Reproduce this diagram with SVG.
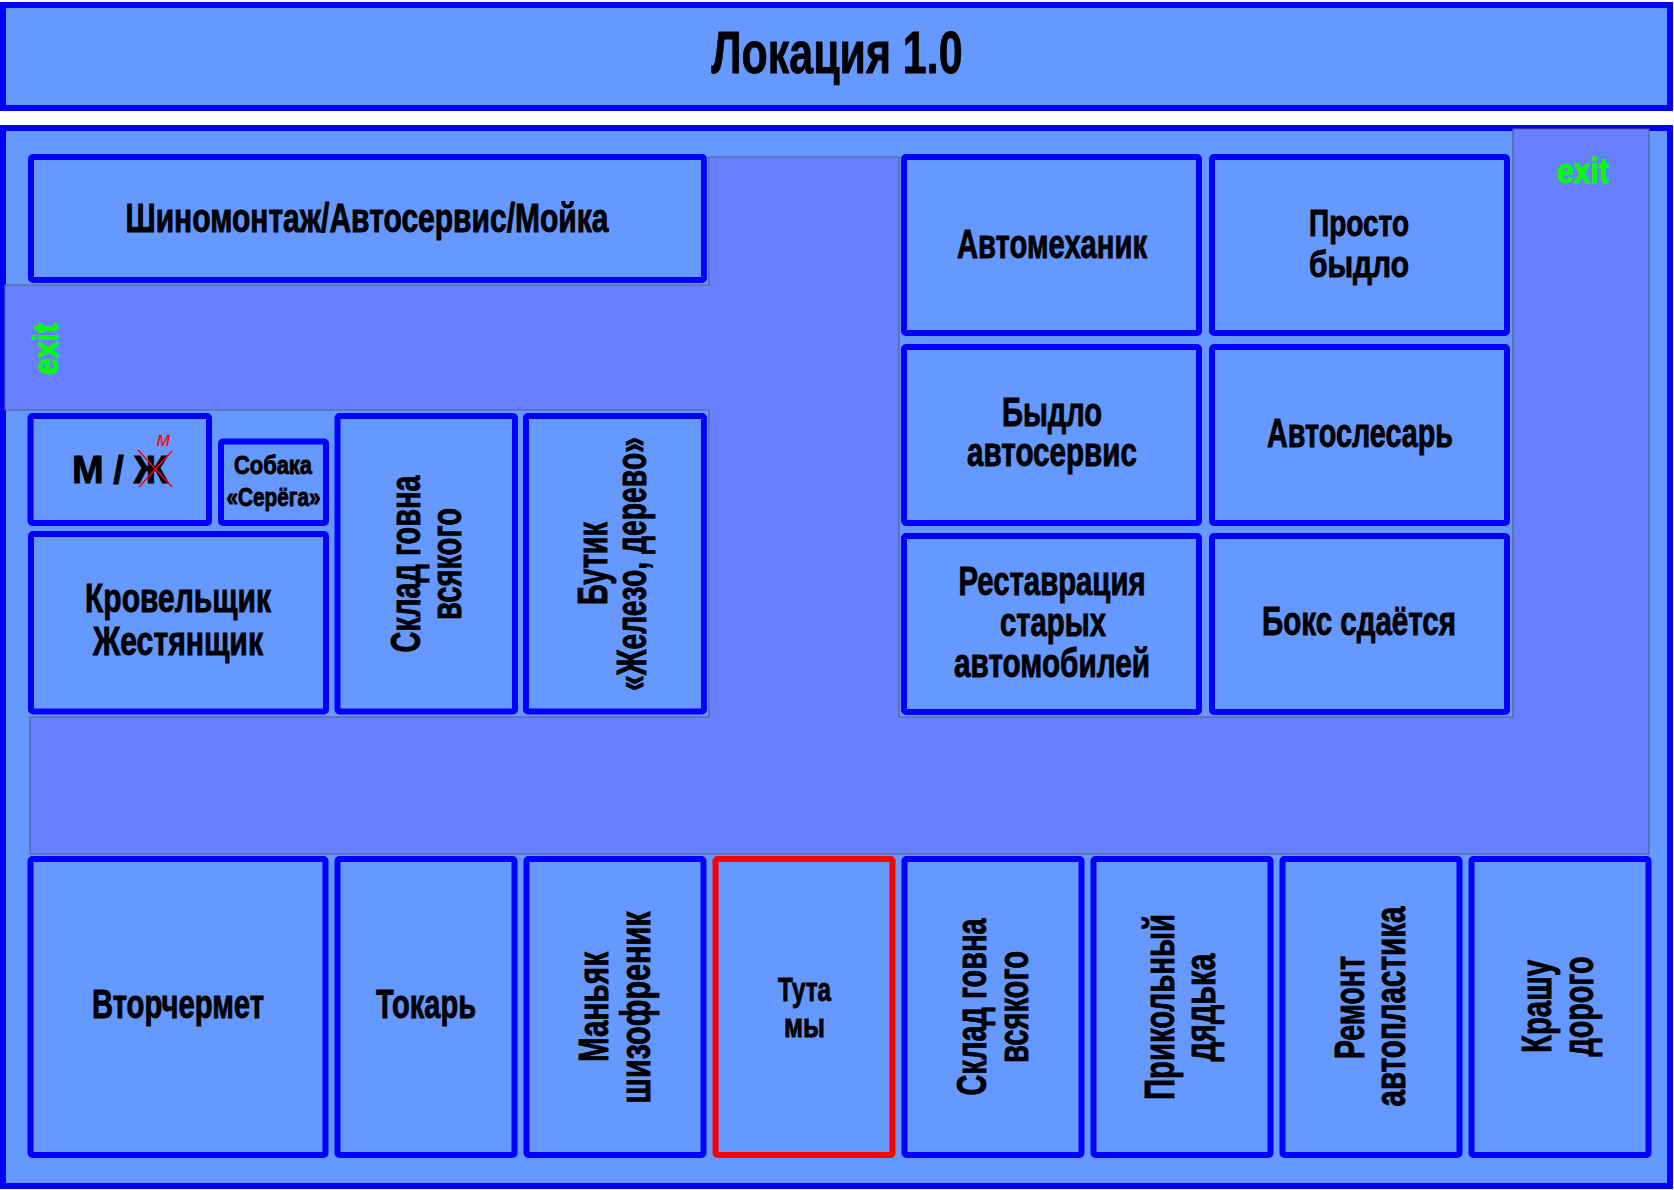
<svg xmlns="http://www.w3.org/2000/svg" width="1674" height="1190" viewBox="0 0 1674 1190">
<style>
.frame{fill:#6699ff;stroke:#0000ff;stroke-width:6}
.box{fill:#6699ff;stroke:#0000ff;stroke-width:6}
.here{fill:#6699ff;stroke:#ff0000;stroke-width:6}
.corr{fill:#6680ff;stroke:#556088;stroke-width:1.2}
.t{font-family:"Liberation Sans Narrow","Liberation Sans",Arial,sans-serif;font-weight:bold;fill:#000;stroke:#000;stroke-width:0.9;text-anchor:middle}
.lab{font-size:40px}
.rot{font-size:42px}
.exit{font-family:"Liberation Sans Narrow","Liberation Sans",Arial,sans-serif;font-weight:bold;fill:#00ff00;stroke:#00ff00;stroke-width:0.8;font-size:35px;text-anchor:middle}
.mark{stroke:#ff0000;stroke-width:1.5}
.m{font-family:"Liberation Sans",Arial,sans-serif;font-size:20px;font-style:italic;fill:#ff0000;text-anchor:middle}
</style>
<rect width="1674" height="1190" fill="#ffffff"/>
<g id="title">
<rect class="frame" x="3" y="5" width="1667" height="103"/>
<text class="t" x="837" y="73" font-size="60" textLength="251" lengthAdjust="spacingAndGlyphs">Локация 1.0</text>
</g>
<g id="location">
<rect class="frame" x="3" y="128" width="1667" height="1058"/>
<path class="corr" d="M5 285H709V157H899V717H1513V129H1649V854H30V717H709V410H5Z"/>
<text class="exit" x="1583" y="183" textLength="52" lengthAdjust="spacingAndGlyphs">exit</text>
<text class="exit" transform="translate(58 349) rotate(-90)" textLength="52" lengthAdjust="spacingAndGlyphs">exit</text>
</g>
<g id="shinomontazh">
<rect class="box" x="31" y="157" width="673" height="123" rx="2"/>
<text class="t lab" x="367" y="232" textLength="483" lengthAdjust="spacingAndGlyphs">Шиномонтаж/Автосервис/Мойка</text>
</g>
<g id="avtomekhanik">
<rect class="box" x="904" y="157" width="295" height="176" rx="2"/>
<text class="t lab" x="1052" y="258" textLength="190" lengthAdjust="spacingAndGlyphs">Автомеханик</text>
</g>
<g id="prosto-bydlo">
<rect class="box" x="1212" y="157" width="295" height="176" rx="2"/>
<text class="t" x="1359" y="236" font-size="36" textLength="100" lengthAdjust="spacingAndGlyphs">Просто</text>
<text class="t" x="1359" y="277" font-size="36" textLength="100" lengthAdjust="spacingAndGlyphs">быдло</text>
</g>
<g id="bydlo-avtoservis">
<rect class="box" x="904" y="347" width="295" height="176" rx="2"/>
<text class="t lab" x="1052" y="426" textLength="100" lengthAdjust="spacingAndGlyphs">Быдло</text>
<text class="t lab" x="1052" y="466" textLength="170" lengthAdjust="spacingAndGlyphs">автосервис</text>
</g>
<g id="avtoslesar">
<rect class="box" x="1212" y="347" width="295" height="176" rx="2"/>
<text class="t lab" x="1360" y="447" textLength="186" lengthAdjust="spacingAndGlyphs">Автослесарь</text>
</g>
<g id="restavratsiya">
<rect class="box" x="904" y="536" width="295" height="176" rx="2"/>
<text class="t lab" x="1052" y="595" textLength="187" lengthAdjust="spacingAndGlyphs">Реставрация</text>
<text class="t lab" x="1053" y="636" textLength="106" lengthAdjust="spacingAndGlyphs">старых</text>
<text class="t lab" x="1052" y="677" textLength="196" lengthAdjust="spacingAndGlyphs">автомобилей</text>
</g>
<g id="boks">
<rect class="box" x="1212" y="536" width="295" height="176" rx="2"/>
<text class="t lab" x="1359" y="635" textLength="194" lengthAdjust="spacingAndGlyphs">Бокс сдаётся</text>
</g>
<g id="mzh">
<rect class="box" x="30.5" y="416" width="178.5" height="107" rx="2"/>
<text class="t" x="120" y="483" font-size="38" textLength="96" lengthAdjust="spacing">М / Ж</text>
<line class="mark" x1="138" y1="450" x2="172" y2="487"/>
<line class="mark" x1="172" y1="451" x2="139" y2="487"/>
<text class="m" x="163.5" y="446">м</text>
</g>
<g id="sobaka">
<rect class="box" x="221" y="441.5" width="105" height="81.5" rx="2"/>
<text class="t" x="273" y="474" font-size="26" textLength="78" lengthAdjust="spacingAndGlyphs">Собака</text>
<text class="t" x="273.5" y="506" font-size="26" textLength="94" lengthAdjust="spacingAndGlyphs">«Серёга»</text>
</g>
<g id="krovelshchik">
<rect class="box" x="31" y="534" width="295" height="177.5" rx="2"/>
<text class="t lab" x="178" y="612" textLength="186" lengthAdjust="spacingAndGlyphs">Кровельщик</text>
<text class="t lab" x="178" y="655" textLength="170" lengthAdjust="spacingAndGlyphs">Жестянщик</text>
</g>
<g id="sklad-1">
<rect class="box" x="337.5" y="416" width="177.5" height="295.5" rx="2"/>
<text class="t rot" transform="translate(419.5 564) rotate(-90)" textLength="177" lengthAdjust="spacingAndGlyphs">Склад говна</text>
<text class="t rot" transform="translate(461 564) rotate(-90)" textLength="112" lengthAdjust="spacingAndGlyphs">всякого</text>
</g>
<g id="butik">
<rect class="box" x="526" y="416" width="178" height="295.5" rx="2"/>
<text class="t rot" transform="translate(607 563.5) rotate(-90)" textLength="83" lengthAdjust="spacingAndGlyphs">Бутик</text>
<text class="t rot" transform="translate(646 564) rotate(-90)" textLength="254" lengthAdjust="spacingAndGlyphs">«Железо, дерево»</text>
</g>
<g id="vtorchermet">
<rect class="box" x="30.5" y="859" width="295" height="296" rx="2"/>
<text class="t lab" x="178" y="1018" textLength="172" lengthAdjust="spacingAndGlyphs">Вторчермет</text>
</g>
<g id="tokar">
<rect class="box" x="337.5" y="859" width="177" height="296" rx="2"/>
<text class="t lab" x="426" y="1018" textLength="100" lengthAdjust="spacingAndGlyphs">Токарь</text>
</g>
<g id="manyak">
<rect class="box" x="526.5" y="859" width="177" height="296" rx="2"/>
<text class="t rot" transform="translate(607.5 1007) rotate(-90)" textLength="110" lengthAdjust="spacingAndGlyphs">Маньяк</text>
<text class="t rot" transform="translate(650 1007.5) rotate(-90)" textLength="192" lengthAdjust="spacingAndGlyphs">шизофреник</text>
</g>
<g id="tuta-my">
<rect class="here" x="715.5" y="859" width="177" height="296" rx="2"/>
<text class="t" x="804.5" y="1001" font-size="34" textLength="53" lengthAdjust="spacingAndGlyphs">Тута</text>
<text class="t" x="804.5" y="1037" font-size="34" textLength="41" lengthAdjust="spacingAndGlyphs">мы</text>
</g>
<g id="sklad-2">
<rect class="box" x="904.5" y="859" width="177" height="296" rx="2"/>
<text class="t rot" transform="translate(986 1007) rotate(-90)" textLength="177" lengthAdjust="spacingAndGlyphs">Склад говна</text>
<text class="t rot" transform="translate(1028 1007) rotate(-90)" textLength="112" lengthAdjust="spacingAndGlyphs">всякого</text>
</g>
<g id="prikolny">
<rect class="box" x="1093.5" y="859" width="177" height="296" rx="2"/>
<text class="t rot" transform="translate(1173.5 1007) rotate(-90)" textLength="186" lengthAdjust="spacingAndGlyphs">Прикольный</text>
<text class="t rot" transform="translate(1214.5 1007.5) rotate(-90)" textLength="108" lengthAdjust="spacingAndGlyphs">дядька</text>
</g>
<g id="remont">
<rect class="box" x="1282.5" y="859" width="177" height="296" rx="2"/>
<text class="t rot" transform="translate(1363.5 1007.5) rotate(-90)" textLength="103" lengthAdjust="spacingAndGlyphs">Ремонт</text>
<text class="t rot" transform="translate(1405 1006.5) rotate(-90)" textLength="200" lengthAdjust="spacingAndGlyphs">автопластика</text>
</g>
<g id="krashu">
<rect class="box" x="1471.5" y="859" width="177" height="296" rx="2"/>
<text class="t rot" transform="translate(1551 1006.5) rotate(-90)" textLength="93" lengthAdjust="spacingAndGlyphs">Крашу</text>
<text class="t rot" transform="translate(1593 1006.5) rotate(-90)" textLength="100" lengthAdjust="spacingAndGlyphs">дорого</text>
</g>
<g id="connectors"></g>
</svg>
